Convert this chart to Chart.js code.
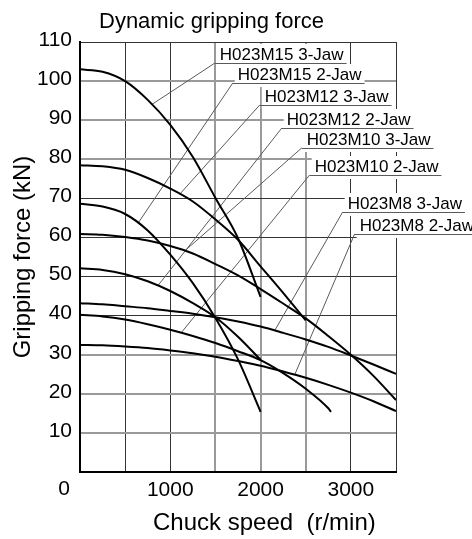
<!DOCTYPE html>
<html><head><meta charset="utf-8">
<script src="https://cdn.jsdelivr.net/npm/chart.js@4.4.0/dist/chart.umd.min.js"></script>
<style>html,body{margin:0;padding:0;background:#fff}canvas{display:block}</style>
</head><body>
<canvas id="c" width="472" height="539"></canvas>
<script>
// ---- data ----
const speedsTo2000 = [0, 250, 500, 750, 1000, 1250, 1500, 1750, 2000];
const speedsTo2500 = [0, 250, 500, 750, 1000, 1250, 1500, 1750, 2000, 2250, 2500];
const speedsTo2780 = [0, 250, 500, 750, 1000, 1250, 1500, 1750, 2000, 2250, 2500, 2750, 2780];
const speedsTo3500 = [0, 250, 500, 750, 1000, 1250, 1500, 1750, 2000, 2250, 2500, 2750, 3000, 3250, 3500];

const m15_3jaw = [103, 102.4, 100, 95.2, 88.8, 80.6, 70.1, 59.8, 44.8];
const m15_2jaw = [68.6, 67.9, 66, 61.8, 55.6, 48.3, 39.4, 28.8, 15.4];
const m12_3jaw = [78.5, 78.2, 77.3, 75.2, 72.5, 69.2, 64.6, 59.4, 52.6, 45.8, 38.8];
const m12_2jaw = [52.1, 51.7, 50.6, 48.8, 46.3, 43.2, 39.6, 34.6, 28.7];
const m10_3jaw = [60.9, 60.7, 60.1, 59.2, 57.8, 55.9, 53.2, 50.3, 46.8, 43.1, 39.3, 34.8, 30, 24.6, 18.4];
const m10_2jaw = [40.2, 39.8, 39, 37.8, 36.4, 34.8, 33, 30.9, 28.6, 25.3, 21.3, 16.3, 15.4];
const m8_3jaw  = [43.2, 42.9, 42.4, 41.9, 41.2, 40.5, 39.6, 38.5, 37.2, 35.6, 33.9, 32, 29.8, 27.5, 25.1];
const m8_2jaw  = [32.5, 32.4, 32.1, 31.7, 31.1, 30.4, 29.5, 28.4, 27.2, 25.7, 24.1, 22.3, 20.3, 18.1, 15.6];

const seriesNames = ['H023M15 3-Jaw', 'H023M15 2-Jaw', 'H023M12 3-Jaw', 'H023M12 2-Jaw',
                     'H023M10 3-Jaw', 'H023M10 2-Jaw', 'H023M8 3-Jaw', 'H023M8 2-Jaw'];
const seriesSpeeds = [speedsTo2000, speedsTo2000, speedsTo2500, speedsTo2000,
                      speedsTo3500, speedsTo2780, speedsTo3500, speedsTo3500];
const seriesValues = [m15_3jaw, m15_2jaw, m12_3jaw, m12_2jaw, m10_3jaw, m10_2jaw, m8_3jaw, m8_2jaw];
// speed at which each label's leader line touches its curve
const leaderSpeeds = [796, 642, 1106, 863, 1161, 1121, 2157, 2378];

const xTickLabels = [1000, 2000, 3000];
const yTickLabels = [10, 20, 30, 40, 50, 60, 70, 80, 90, 100, 110];
const titleText = 'Dynamic gripping force';
const xTitleText = 'Chuck speed  (r/min)';
const yTitleText = 'Gripping force (kN)';
const originLabel = '0';

// ---- layout / style (label anchors in axis units) ----
const labelAnchors = [[1493, 104.6], [1692, 99.5], [1991, 93.9], [2235, 88.0],
                      [2456, 82.9], [2544, 76.0], [2909, 66.5], [3042, 60.9]];
const grayX = [1500, 2000, 2500];
const grayY = [10, 20, 30, 80, 90, 100];
const FONT = '"Liberation Sans", Arial, Helvetica, sans-serif';

function interp(xs, ys, v) {
  for (let i = 0; i < xs.length - 1; i++) {
    if (v >= xs[i] && v <= xs[i + 1]) {
      const t = (v - xs[i]) / (xs[i + 1] - xs[i]);
      return ys[i] + t * (ys[i + 1] - ys[i]);
    }
  }
  return ys[ys.length - 1];
}

const datasets = seriesNames.map((name, i) => ({
  label: name,
  data: seriesSpeeds[i].map((s, j) => ({ x: s, y: seriesValues[i][j] })),
  borderColor: '#000',
  borderWidth: 2,
  pointRadius: 0,
  fill: false,
  cubicInterpolationMode: 'monotone'
}));

const annot = {
  id: 'annot',
  beforeDatasetsDraw(chart) {
    const { ctx, scales: { x, y } } = chart;
    ctx.save();
    ctx.strokeStyle = '#5a5a5a';
    ctx.lineWidth = 1;
    seriesNames.forEach((n, i) => {
      const [ax, ay] = labelAnchors[i];
      const ts = leaderSpeeds[i];
      const tv = interp(seriesSpeeds[i], seriesValues[i], ts);
      ctx.beginPath();
      ctx.moveTo(x.getPixelForValue(ax), y.getPixelForValue(ay));
      ctx.lineTo(x.getPixelForValue(ts), y.getPixelForValue(tv));
      ctx.stroke();
    });
    ctx.restore();
  },
  afterDatasetsDraw(chart) {
    const { ctx, scales: { x, y }, chartArea } = chart;
    ctx.save();
    ctx.font = '17px ' + FONT;
    ctx.textBaseline = 'alphabetic';
    ctx.textAlign = 'left';
    seriesNames.forEach((n, i) => {
      const [ax, ay] = labelAnchors[i];
      const px = x.getPixelForValue(ax);
      const py = Math.round(y.getPixelForValue(ay));
      const w = ctx.measureText(n).width;
      ctx.fillStyle = '#fff';
      ctx.fillRect(px + 2, py - 19, w + 6, 23);
      ctx.fillStyle = '#000';
      ctx.fillText(n, px + 5, py - 3.5);
      ctx.strokeStyle = '#5a5a5a';
      ctx.lineWidth = 1;
      ctx.beginPath();
      ctx.moveTo(px, py + 0.5);
      ctx.lineTo(px + w + 8, py + 0.5);
      ctx.stroke();
    });
    // title
    ctx.fillStyle = '#000';
    ctx.font = '22px ' + FONT;
    ctx.fillText(titleText, chartArea.left + 19, 27.5);
    // x-axis title
    ctx.font = '24px ' + FONT;
    ctx.fillText(xTitleText, chartArea.left + 73, 530);
    // origin label
    ctx.font = '21px ' + FONT;
    ctx.textAlign = 'center';
    ctx.fillText(originLabel, chartArea.left - 16, 495);
    ctx.restore();
  }
};

Chart.defaults.font.family = FONT;
Chart.defaults.color = '#000';

new Chart(document.getElementById('c'), {
  type: 'line',
  data: { datasets },
  plugins: [annot],
  options: {
    responsive: false,
    animation: false,
    events: [],
    layout: { padding: { left: 0, top: 42, right: 76, bottom: 0 } },
    plugins: { legend: { display: false }, tooltip: { enabled: false }, title: { display: false } },
    scales: {
      x: {
        type: 'linear',
        min: 0, max: 3500,
        afterFit(scale) { scale.height = 67; },
        ticks: {
          stepSize: 500,
          padding: 6,
          font: { size: 21 },
          color: '#000',
          maxRotation: 0,
          autoSkip: false,
          callback: (v) => xTickLabels.includes(v) ? String(v) : ''
        },
        grid: {
          drawTicks: false,
          color: (c) => grayX.includes(c.tick && c.tick.value) ? '#9a9a9a' : '#333',
          lineWidth: (c) => grayX.includes(c.tick && c.tick.value) ? 2 : 1
        },
        border: { color: '#000', width: 2 }
      },
      y: {
        type: 'linear',
        min: 0, max: 110,
        afterFit(scale) { scale.width = 80; },
        ticks: {
          stepSize: 10,
          padding: 8,
          labelOffset: -2,
          font: { size: 21 },
          color: '#000',
          autoSkip: false,
          callback: (v) => yTickLabels.includes(v) ? String(v) : ''
        },
        grid: {
          drawTicks: false,
          color: (c) => grayY.includes(c.tick && c.tick.value) ? '#9a9a9a' : '#333',
          lineWidth: (c) => grayY.includes(c.tick && c.tick.value) ? 2 : 1
        },
        border: { color: '#000', width: 2 },
        title: { display: true, text: yTitleText, font: { size: 24 }, color: '#000', padding: { top: 9, bottom: 0 } }
      }
    }
  }
});
</script>
</body></html>
